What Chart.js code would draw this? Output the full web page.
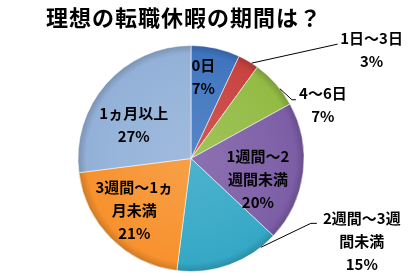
<!DOCTYPE html>
<html>
<head>
<meta charset="utf-8">
<script src="https://cdn.jsdelivr.net/npm/chart.js@4.4.0/dist/chart.umd.min.js"></script>
<style>
  html, body { margin: 0; padding: 0; background: #fff; }
  #wrap { width: 416px; height: 277px; position: relative; }
</style>
</head>
<body>
<div id="wrap"><canvas id="pie"></canvas></div>
<script>
// Chart data
const titleText = "理想の転職休暇の期間は？";
const categories = ["0日", "1日～3日", "4～6日", "1週間～2週間未満", "2週間～3週間未満", "3週間～1ヵ月未満", "1ヵ月以上"];
const labelLines = [["0日"], ["1日～3日"], ["4～6日"], ["1週間～2", "週間未満"], ["2週間～3週", "間未満"], ["3週間～1ヵ", "月未満"], ["1ヵ月以上"]];
const shares = [7, 3, 7, 20, 15, 21, 27];

// Colours
const sliceColors = ["#3f75bf", "#c8433f", "#93bb44", "#7c5ea6", "#35a8c6", "#f7922e", "#93b1d8"];

// Where each label goes (inside: polar from centre, outside: offsets from rim anchor)
const labelPlace = [
    { inside: true, r: 0.73, da: -4 },
    { inside: false, at: 0.67, elbow: [86, -19], end: [86, -19], text: [120, -13] },
    { inside: false, at: 0.63, elbow: [12, 11], end: [16, 11], text: [43, 16] },
    { inside: true, r: 0.62, da: 10 },
    { inside: false, at: 0.16, elbow: [50, -24], end: [56, -24], text: [101, -6] },
    { inside: true, r: 0.68, da: 2.6 },
    { inside: true, r: 0.59, da: -10.6 }
];

const labelFont = "bold 15px 'Noto Sans CJK JP', sans-serif";
const lineGap = 23;

function mix(hex, target, f) {
    const n = parseInt(hex.slice(1), 16);
    const r = (n >> 16) & 255, g = (n >> 8) & 255, b = n & 255;
    const m = (c) => Math.round(c + (target - c) * f);
    return "rgb(" + m(r) + "," + m(g) + "," + m(b) + ")";
}

function sliceFill(ctx) {
    const base = sliceColors[ctx.dataIndex];
    const area = ctx.chart.chartArea;
    if (!area) return base;
    const cx = (area.left + area.right) / 2;
    const cy = (area.top + area.bottom) / 2;
    const r = Math.min(area.right - area.left, area.bottom - area.top) / 2;
    const g = ctx.chart.ctx.createRadialGradient(cx, cy, 0, cx, cy, r);
    g.addColorStop(0, mix(base, 255, 0.12));
    g.addColorStop(0.6, mix(base, 255, 0.05));
    g.addColorStop(0.92, base);
    g.addColorStop(1, mix(base, 0, 0.18));
    return g;
}

// Title drawn above the pie
const titlePlugin = {
    id: "titleText",
    afterDraw(chart) {
        const c = chart.ctx;
        c.save();
        c.font = "bold 22px 'Noto Sans CJK JP', sans-serif";
        c.letterSpacing = "1px";
        c.fillStyle = "#000";
        c.textAlign = "center";
        c.textBaseline = "middle";
        c.fillText(titleText, 184, 18);
        c.restore();
    }
};

// Data labels with leader lines
const labelPlugin = {
    id: "sliceLabels",
    afterDatasetsDraw(chart) {
        const c = chart.ctx;
        const arcs = chart.getDatasetMeta(0).data;
        c.save();
        c.font = labelFont;
        c.fillStyle = "#000";
        c.textAlign = "center";
        c.textBaseline = "middle";
        arcs.forEach((arc, i) => {
            const p = labelPlace[i];
            const lines = labelLines[i].concat([shares[i] + "%"]);
            let tx, ty;
            if (p.inside) {
                const mid = (arc.startAngle + arc.endAngle) / 2 + p.da * Math.PI / 180;
                tx = arc.x + Math.cos(mid) * arc.outerRadius * p.r;
                ty = arc.y + Math.sin(mid) * arc.outerRadius * p.r;
            } else {
                const a = arc.startAngle + (arc.endAngle - arc.startAngle) * p.at;
                const ax = arc.x + Math.cos(a) * arc.outerRadius;
                const ay = arc.y + Math.sin(a) * arc.outerRadius;
                c.strokeStyle = "#000";
                c.lineWidth = 1;
                c.beginPath();
                c.moveTo(ax, ay);
                c.lineTo(ax + p.elbow[0], ay + p.elbow[1]);
                c.lineTo(ax + p.end[0], ay + p.end[1]);
                c.stroke();
                tx = ax + p.text[0];
                ty = ay + p.text[1];
            }
            const top = ty - (lines.length - 1) * lineGap / 2;
            lines.forEach((t, k) => c.fillText(t, tx, top + k * lineGap));
        });
        c.restore();
    }
};

new Chart(document.getElementById("pie"), {
    type: "pie",
    data: {
        labels: categories,
        datasets: [{
            data: shares,
            backgroundColor: sliceFill,
            borderColor: "rgba(255,255,255,0.55)",
            borderWidth: 1
        }]
    },
    options: {
        responsive: true,
        maintainAspectRatio: false,
        animation: false,
        layout: { padding: { top: 45, bottom: 5, left: 0, right: 34 } },
        plugins: {
            legend: { display: false },
            tooltip: { enabled: false },
            title: { display: false }
        }
    },
    plugins: [titlePlugin, labelPlugin]
});
</script>
</body>
</html>
